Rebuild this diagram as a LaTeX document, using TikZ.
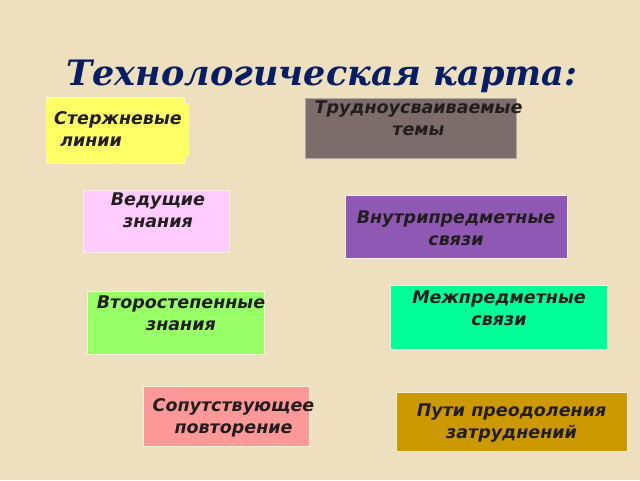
\documentclass[tikz,border=0pt]{standalone}
\usepackage{fontspec}
\setsansfont{DejaVu Sans}
\newfontfamily\titlefont{DejaVu Serif}
\usetikzlibrary{calc}

\definecolor{paper}{RGB}{238,223,190}
\definecolor{navy}{RGB}{8,30,100}
\definecolor{ink}{RGB}{34,30,30}
\definecolor{rim}{RGB}{250,242,222}
\definecolor{yellowbox}{RGB}{255,255,102}
\definecolor{mauvebox}{RGB}{124,108,108}
\definecolor{pinkbox}{RGB}{255,204,255}
\definecolor{purplebox}{RGB}{142,88,180}
\definecolor{greenbox}{RGB}{153,255,102}
\definecolor{tealbox}{RGB}{0,255,153}
\definecolor{salmonbox}{RGB}{255,153,153}
\definecolor{goldbox}{RGB}{204,153,0}

\begin{document}
\begin{tikzpicture}[x=1pt,y=-1pt,
	box/.style={draw=rim,line width=0.8pt,inner sep=0pt},
	lbl/.style={font=\sffamily\bfseries\itshape\fontsize{17.5}{22}\selectfont,text=ink,align=center,inner sep=0pt}]

	\fill[paper] (0,0) rectangle (640,480);
	\useasboundingbox (0,0) rectangle (640,480);

	\node[font=\titlefont\bfseries\itshape\fontsize{35}{42}\selectfont,text=navy] (title) at (322,76) {Технологическая карта:};

	% boxes
	\node[box,fill=yellowbox,minimum width=138,minimum height=66] (stem) at (115,130) {};
	\node[fill=yellowbox,minimum width=143,minimum height=54,inner sep=0pt] (stemx) at (117.5,130) {};
	\node[box,fill=mauvebox,draw=mauvebox!60!white,minimum width=211,minimum height=60] (hard) at (410.5,128) {};
	\node[box,fill=pinkbox,minimum width=146,minimum height=62] (lead) at (156,221) {};
	\node[box,fill=purplebox,minimum width=222,minimum height=63] (inner) at (456,226.5) {};
	\node[box,fill=greenbox,minimum width=177,minimum height=63] (minor) at (176,322.5) {};
	\node[box,fill=tealbox,minimum width=217,minimum height=64] (inter) at (499,317) {};
	\node[box,fill=salmonbox,minimum width=166,minimum height=60] (repeat) at (226.5,416) {};
	\node[box,fill=goldbox,minimum width=231,minimum height=59] (ways) at (511.5,421.5) {};

	% texts
	\node[lbl,align=left,anchor=west] (stemtxt) at (54,129) {Стержневые\\\ линии};
	\node[lbl] (hardtxt) at ($(hard.north)+(8,21)$) {Трудноусваиваемые\\темы};
	\node[lbl] (leadtxt) at ($(lead.north)+(2,21)$) {Ведущие\\знания};
	\node[lbl] (innertxt) at ($(inner.center)+(0,2)$) {Внутрипредметные\\связи};
	\node[lbl] (minortxt) at ($(minor.north)+(5,23)$) {Второстепенные\\знания};
	\node[lbl] (intertxt) at ($(inter.north)+(0,24)$) {Межпредметные\\связи};
	\node[lbl] (repeattxt) at ($(repeat.center)+(7,2)$) {Сопутствующее\\повторение};
	\node[lbl] (waystxt) at ($(ways.center)+(0,2)$) {Пути преодоления\\затруднений};

\end{tikzpicture}
\end{document}
